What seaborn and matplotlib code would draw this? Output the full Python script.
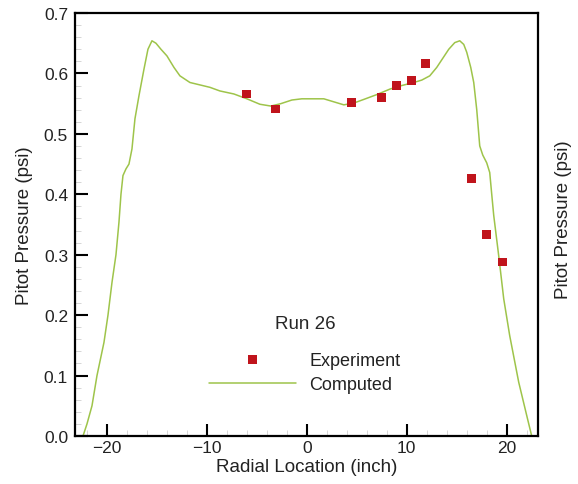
import matplotlib
matplotlib.use("Agg")
import matplotlib.pyplot as plt
from matplotlib.ticker import MultipleLocator
import seaborn as sns
import pandas as pd

# Computed curve
comp_x = [-22.4, -22.0, -21.5, -21.0, -20.3, -19.9, -19.5, -19.1, -18.8, -18.6,
          -18.4, -18.1, -17.8, -17.5, -17.2, -16.8, -16.3, -15.9, -15.5, -15.1,
          -14.6, -14.0, -13.3, -12.7, -11.7, -9.7, -8.7, -7.3, -6.0, -4.7,
          -3.6, -2.6, -1.5, -0.5, 0.5, 1.7, 2.7, 3.7, 4.7, 5.7,
          7.0, 8.3, 9.5, 10.7, 11.5, 12.3, 13.0, 13.6, 14.2, 14.8,
          15.3, 15.7, 16.0, 16.4, 16.7, 17.0, 17.3, 17.6, 18.0, 18.3,
          18.5, 18.7, 19.2, 19.7, 20.3, 21.2, 22.0, 22.5]
comp_y = [0.000, 0.020, 0.050, 0.100, 0.155, 0.200, 0.254, 0.300, 0.354, 0.400,
          0.431, 0.442, 0.450, 0.475, 0.525, 0.563, 0.607, 0.640, 0.654, 0.650,
          0.640, 0.629, 0.610, 0.596, 0.585, 0.577, 0.571, 0.566, 0.558, 0.549,
          0.546, 0.550, 0.556, 0.558, 0.558, 0.558, 0.553, 0.548, 0.551, 0.557,
          0.565, 0.574, 0.580, 0.585, 0.589, 0.596, 0.610, 0.625, 0.640, 0.651,
          0.654, 0.648, 0.635, 0.610, 0.585, 0.540, 0.480, 0.465, 0.452, 0.436,
          0.400, 0.365, 0.298, 0.227, 0.166, 0.089, 0.034, 0.000]

# Experiment points
exp_x = [-6.0, -3.1, 4.5, 7.5, 9.0, 10.5, 11.9, 16.5, 18.0, 19.6]
exp_y = [0.566, 0.541, 0.552, 0.560, 0.580, 0.588, 0.616, 0.426, 0.333, 0.288]

x_ticks = [-20, -10, 0, 10, 20]
y_ticks = [0.0, 0.1, 0.2, 0.3, 0.4, 0.5, 0.6, 0.7]

sns.set_theme(style="ticks")
plt.rcParams["font.family"] = ["Liberation Sans", "DejaVu Sans"]

df_c = pd.DataFrame({"x": comp_x, "y": comp_y})
df_e = pd.DataFrame({"x": exp_x, "y": exp_y})

fig = plt.figure(figsize=(5.78, 4.85), dpi=100)
ax = fig.add_axes([75 / 578, 1 - 437 / 485, (537.7 - 75) / 578, (437 - 14) / 485])

sns.lineplot(data=df_c, x="x", y="y", ax=ax, color="#9ec44a", lw=1.1,
             estimator=None, sort=False, label="Computed", zorder=2)
sns.scatterplot(data=df_e, x="x", y="y", ax=ax, marker="s", s=40,
                color="#c0141c", edgecolor="none", label="Experiment", zorder=3)

ax.set_xlim(-23.2, 23.1)
ax.set_ylim(0.0, 0.7)
ax.set_xticks(x_ticks)
ax.set_yticks(y_ticks)
ax.set_yticklabels([f"{v:.1f}" for v in y_ticks])
ax.xaxis.set_minor_locator(MultipleLocator(2))
ax.yaxis.set_minor_locator(MultipleLocator(0.02))
ax.tick_params(which="major", direction="in", length=9, width=1.5, color="black",
               labelsize=12.5, pad=5, labelcolor="#222222")
ax.tick_params(axis="x", which="major", pad=3)
ax.tick_params(which="minor", direction="in", length=4, width=0.6, color="#d0d0d0")
for s in ax.spines.values():
    s.set_linewidth(1.6)
    s.set_color("black")

ax.set_xlabel("Radial Location (inch)", fontsize=13.5, color="#222222")
ax.set_ylabel("Pitot Pressure (psi)", fontsize=13.5, color="#222222")
ax.xaxis.set_label_coords(0.5, -(468 - 437) / 423, transform=ax.transAxes)
ax.yaxis.set_label_coords(-(75 - 25) / 462.7, 0.5, transform=ax.transAxes)
ax.xaxis.label.set_va("center")
ax.yaxis.label.set_va("center")

# right-hand duplicate axis label
fig.text(563 / 578, 1 - 220 / 485, "Pitot Pressure (psi)", rotation=90,
         ha="center", va="center", fontsize=13.5, color="#222222")

h, l = ax.get_legend_handles_labels()
order = [l.index("Experiment"), l.index("Computed")]
leg = ax.legend([h[i] for i in order], [l[i] for i in order], title="Run 26",
                frameon=False, fontsize=13, title_fontsize=13.5,
                handlelength=4.8, handletextpad=0.75, labelspacing=0.4,
                loc="center", bbox_to_anchor=(305 / 578, 1 - 355 / 485),
                bbox_transform=fig.transFigure)
leg._legend_box.sep = 14
for t in leg.get_texts():
    t.set_color("#222222")

fig.savefig("out.png", dpi=100)
